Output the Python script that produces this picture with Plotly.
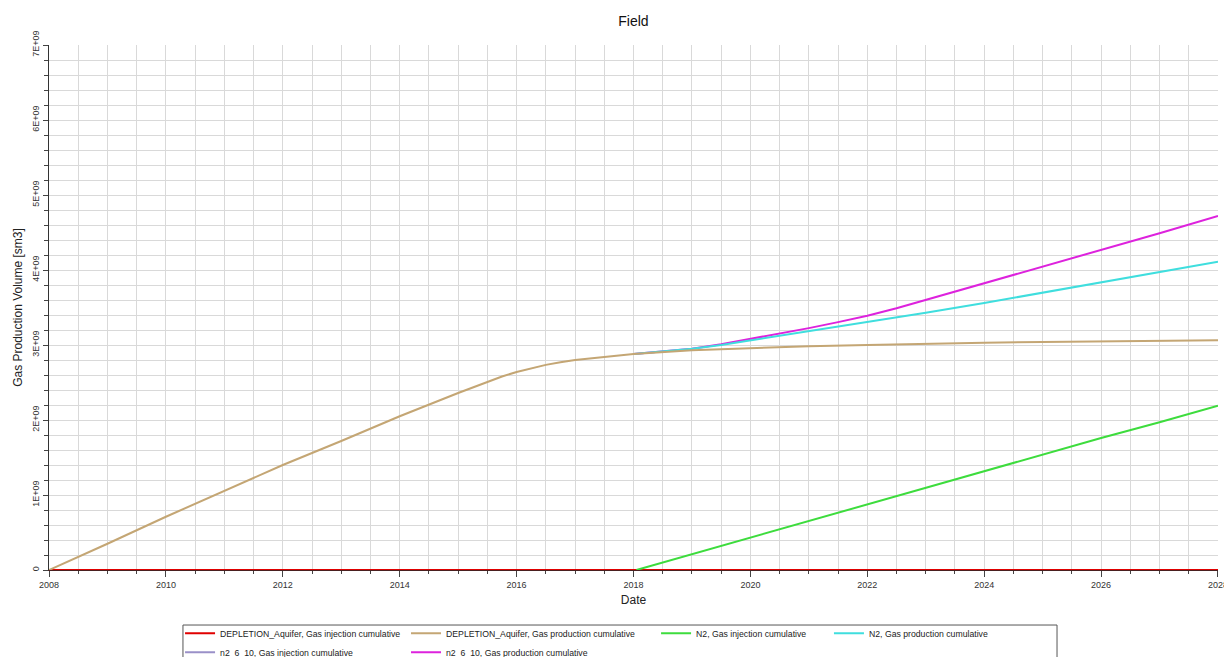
import plotly.graph_objects as go

# ---- data (decimal years, volumes in sm3) ----
dep_prod_years = [2008.0, 2008.5, 2009.0, 2010.0, 2011.0, 2012.0, 2013.0, 2014.0, 2015.0,
                  2015.5, 2015.75, 2016.0, 2016.25, 2016.5, 2016.75, 2017.0, 2017.5, 2018.0,
                  2019.0, 2020.0, 2021.0, 2022.0, 2023.0, 2024.0, 2025.0, 2026.0, 2027.0, 2028.0]
dep_prod_vals = [0.0, 0.17e9, 0.35e9, 0.71e9, 1.06e9, 1.40e9, 1.72e9, 2.05e9, 2.36e9,
                 2.51e9, 2.58e9, 2.64e9, 2.69e9, 2.735e9, 2.77e9, 2.80e9, 2.84e9, 2.88e9,
                 2.93e9, 2.96e9, 2.985e9, 3.00e9, 3.02e9, 3.03e9, 3.04e9, 3.05e9, 3.06e9, 3.065e9]

dep_inj_years = [2008.0, 2028.0]
dep_inj_vals = [0.0, 0.0]

n2_inj_years = [2018.05, 2019.0, 2020.0, 2021.0, 2022.0, 2023.0, 2024.0, 2025.0, 2026.0, 2027.0, 2028.0]
n2_inj_vals = [0.0, 0.21e9, 0.43e9, 0.65e9, 0.87e9, 1.09e9, 1.31e9, 1.53e9, 1.76e9, 1.97e9, 2.19e9]

n2_prod_years = [2018.0, 2018.5, 2019.0, 2019.5, 2020.0, 2020.5, 2021.0, 2021.5, 2022.0,
                 2023.0, 2024.0, 2025.0, 2026.0, 2027.0, 2028.0]
n2_prod_vals = [2.88e9, 2.91e9, 2.95e9, 3.00e9, 3.06e9, 3.12e9, 3.18e9, 3.24e9, 3.30e9,
                3.43e9, 3.56e9, 3.70e9, 3.84e9, 3.97e9, 4.11e9]

n2610_inj_years = [2018.0, 2028.0]
n2610_inj_vals = [0.0, 0.0]

n2610_prod_years = [2018.0, 2018.5, 2019.0, 2019.5, 2020.0, 2020.5, 2021.0, 2021.5, 2022.0,
                    2022.5, 2023.0, 2023.5, 2024.0, 2025.0, 2026.0, 2027.0, 2028.0]
n2610_prod_vals = [2.88e9, 2.91e9, 2.95e9, 3.01e9, 3.08e9, 3.15e9, 3.225e9, 3.305e9, 3.39e9,
                   3.49e9, 3.60e9, 3.715e9, 3.83e9, 4.05e9, 4.27e9, 4.49e9, 4.72e9]

y_tick_vals = [0, 1e9, 2e9, 3e9, 4e9, 5e9, 6e9, 7e9]
y_tick_text = ["0", "1E+09", "2E+09", "3E+09", "4E+09", "5E+09", "6E+09", "7E+09"]

FONT = "Liberation Sans, Arial, sans-serif"

fig = go.Figure()

# draw order: zero-valued injection lines first so the red one sits on top
fig.add_trace(go.Scatter(x=n2610_inj_years, y=n2610_inj_vals, mode="lines",
                         name="n2_6_10, Gas injection cumulative",
                         line=dict(color="#9a90c8", width=2), legend="legend", legendrank=2))
fig.add_trace(go.Scatter(x=dep_inj_years, y=dep_inj_vals, mode="lines",
                         name="DEPLETION_Aquifer, Gas injection cumulative",
                         line=dict(color="#e00000", width=2), legend="legend", legendrank=1))
fig.add_trace(go.Scatter(x=n2_inj_years, y=n2_inj_vals, mode="lines",
                         name="N2, Gas injection cumulative",
                         line=dict(color="#3ddc3d", width=2), legend="legend3"))
fig.add_trace(go.Scatter(x=n2610_prod_years, y=n2610_prod_vals, mode="lines",
                         name="n2_6_10, Gas production cumulative",
                         line=dict(color="#dd22dd", width=2), legend="legend2", legendrank=2))
fig.add_trace(go.Scatter(x=n2_prod_years, y=n2_prod_vals, mode="lines",
                         name="N2, Gas production cumulative",
                         line=dict(color="#3fdede", width=2), legend="legend4"))
fig.add_trace(go.Scatter(x=dep_prod_years, y=dep_prod_vals, mode="lines",
                         name="DEPLETION_Aquifer, Gas production cumulative",
                         line=dict(color="#c4a674", width=2), legend="legend2", legendrank=1))

leg_common = dict(orientation="v", xanchor="left", yanchor="top", y=-0.093,
                  font=dict(family=FONT, size=8.7, color="#222"),
                  bgcolor="rgba(0,0,0,0)", borderwidth=0, tracegroupgap=0,
                  itemwidth=30, traceorder="normal")

fig.update_layout(
    width=1224, height=657,
    margin=dict(l=49, r=6, t=45, b=87, autoexpand=False),
    paper_bgcolor="white", plot_bgcolor="white",
    font=dict(family=FONT, color="#222"),
    title=dict(text="Field", x=0.5, xref="paper", xanchor="center",
               y=1 - 21 / 657, yanchor="middle",
               font=dict(family=FONT, size=14, color="#111")),
    showlegend=True,
    legend=dict(x=0.1121, **leg_common),
    legend2=dict(x=0.3054, **leg_common),
    legend3=dict(x=0.5193, **leg_common),
    legend4=dict(x=0.6672, **leg_common),
    xaxis=dict(
        range=[2008, 2028.0001], tickmode="linear", tick0=2008, dtick=2, tickformat="d",
        ticks="outside", ticklen=6, tickcolor="#444", tickwidth=1,
        ticklabeloverflow="allow",
        showgrid=True, gridcolor="#d9d9d9", gridwidth=1,
        minor=dict(dtick=0.5, tick0=2008, ticks="outside", ticklen=3, tickcolor="#444",
                   showgrid=True, gridcolor="#d9d9d9"),
        showline=True, linecolor="#4a2020", linewidth=1, layer="above traces",
        zeroline=False, automargin=False,
        tickfont=dict(family=FONT, size=9, color="#333"),
        title=dict(text="Date", font=dict(family=FONT, size=12, color="#222"), standoff=6),
    ),
    yaxis=dict(
        range=[0, 7e9], tickmode="array", tickvals=y_tick_vals, ticktext=y_tick_text,
        tickangle=-90, ticks="outside", ticklen=5, tickcolor="#444", tickwidth=1,
        showgrid=True, gridcolor="#d9d9d9", gridwidth=1,
        minor=dict(dtick=2e8, tick0=0, ticks="outside", ticklen=4, tickcolor="#444",
                   showgrid=True, gridcolor="#d9d9d9"),
        showline=True, linecolor="#333", linewidth=1,
        zeroline=False, automargin=False,
        tickfont=dict(family=FONT, size=9, color="#333"),
        title=dict(text="Gas Production Volume [sm3]",
                   font=dict(family=FONT, size=12, color="#222"), standoff=6),
    ),
    shapes=[dict(type="rect", xref="paper", yref="paper",
                 x0=0.1146, x1=0.8623, y0=-0.1048, y1=-0.20,
                 line=dict(color="#555", width=1), fillcolor="rgba(0,0,0,0)", layer="above")],
)

fig.write_html("out.html")
